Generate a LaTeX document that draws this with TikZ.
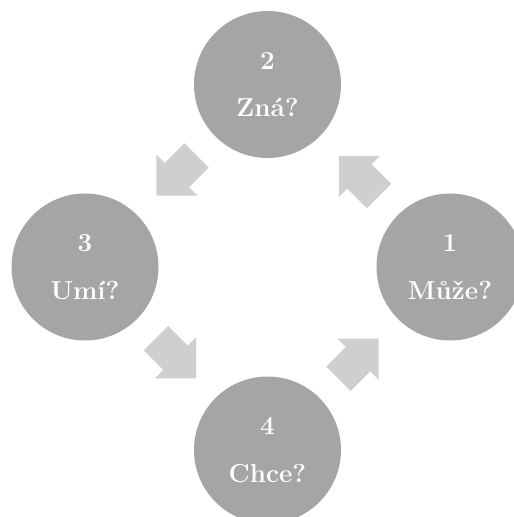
\documentclass[tikz,border=0pt]{standalone}
\usetikzlibrary{shapes.arrows,calc}
\definecolor{stagegray}{HTML}{A5A5A5}
\definecolor{flowgray}{HTML}{CFCFCF}

\begin{document}
\begin{tikzpicture}[x=1pt,y=1pt,
    stage/.style={circle,fill=stagegray,minimum size=147pt,inner sep=0pt,text=white,align=center,
      font={\fontsize{26}{47.5}\selectfont\bfseries}},
    flow/.style={single arrow,fill=flowgray,minimum height=57pt,minimum width=58pt,anchor=tip,
      single arrow head extend=12pt,single arrow tip angle=90,inner xsep=0pt,inner ysep=17pt,rotate=#1}]
    \useasboundingbox (0,0) rectangle (514,-517);
    \clip (0,0) rectangle (514,-517);
    \node[stage] (s1) at (450,-267) {1\\Může?};
    \node[stage] (s2) at (267.5,-84.5) {2\\Zná?};
    \node[stage] (s3) at (85,-267) {3\\Umí?};
    \node[stage] (s4) at (267.5,-450) {4\\Chce?};
    % tips sit half an arrow past the midpoints
    \node[flow=135] (f12) at ($(s1)!0.5!(s2)!28.5pt!(s2)$) {};
    \node[flow=-135] (f23) at ($(s2)!0.5!(s3)!28.5pt!(s3)$) {};
    \node[flow=-45] (f34) at ($(s3)!0.5!(s4)!28.5pt!(s4)$) {};
    \node[flow=45] (f41) at ($(s4)!0.5!(s1)!28.5pt!(s1)$) {};
  \end{tikzpicture}
\end{document}
